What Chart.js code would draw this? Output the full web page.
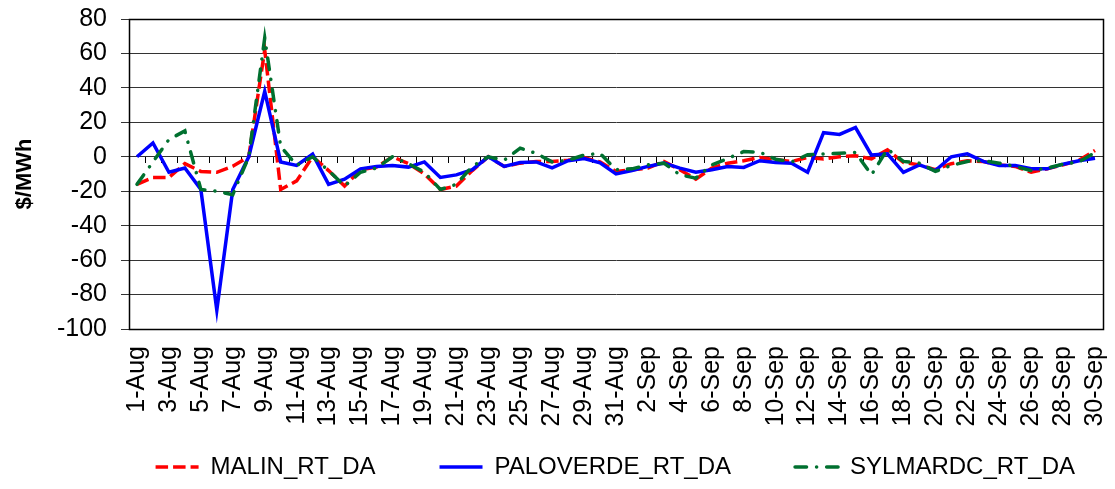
<!DOCTYPE html>
<html lang="en">
<head>
<meta charset="UTF-8">
<title>RT - DA price spread</title>
<script src="https://cdn.jsdelivr.net/npm/chart.js"></script>
<style>
  html, body { margin: 0; padding: 0; background: #fff; }
  .chart-box { width: 1115px; height: 489px; position: relative; }
</style>
</head>
<body>
<div class="chart-box"><canvas id="spreadChart"></canvas></div>
<script>
const days = [
  '1-Aug','2-Aug','3-Aug','4-Aug','5-Aug','6-Aug','7-Aug','8-Aug','9-Aug','10-Aug',
  '11-Aug','12-Aug','13-Aug','14-Aug','15-Aug','16-Aug','17-Aug','18-Aug','19-Aug','20-Aug',
  '21-Aug','22-Aug','23-Aug','24-Aug','25-Aug','26-Aug','27-Aug','28-Aug','29-Aug','30-Aug',
  '31-Aug','1-Sep','2-Sep','3-Sep','4-Sep','5-Sep','6-Sep','7-Sep','8-Sep','9-Sep',
  '10-Sep','11-Sep','12-Sep','13-Sep','14-Sep','15-Sep','16-Sep','17-Sep','18-Sep','19-Sep',
  '20-Sep','21-Sep','22-Sep','23-Sep','24-Sep','25-Sep','26-Sep','27-Sep','28-Sep','29-Sep',
  '30-Sep'
];

const malin = [
  -16, -12, -12, -4, -8.5, -9, -5.5, 0, 62, -19,
  -14, 0, -8, -17, -7.5, -6, 0, -4, -10, -19,
  -17, -8, 0, -5.6, -3.7, -2.7, -2.7, -2, -0.5, -3,
  -8.5, -7.5, -6.6, -2.7, -7.5, -13, -6.6, -3.7, -2.3, -0.4,
  -1.7, -2.7, -0.4, -1.3, 0, 0.6, -1.2, 4, -3.3, -4.7,
  -7.5, -4, -2.3, -2.7, -4.7, -5.6, -9, -7, -4.7, -2,
  3.7
];

const paloverde = [
  0, 8, -9, -6.5, -19, -89, -19, 0, 38, -3,
  -5, 1.5, -16, -13, -7, -5.6, -5, -6, -3, -12,
  -10.5, -7.5, 0, -5.6, -3.3, -3, -6.4, -2.3, -1, -3.5,
  -10, -8, -5.6, -3.7, -6.6, -9, -7.5, -5.6, -6.2, -2.3,
  -3.3, -3.7, -9, 14, 13, 17, 1, 1.7, -9, -4.7,
  -8, 0, 1.7, -2.7, -5, -5, -7, -7, -4.3, -2.3,
  -0.8
];

const sylmardc = [
  -16, -3, 10, 15, -19, -20, -22, 0, 69, 6,
  -5, 0, -8, -17, -9, -6.5, 0, -4, -9, -19,
  -16, -5.6, 0, -2, 5, 2, -3, -2, 1, 2,
  -7.5, -7, -4.7, -3.7, -10.5, -12.4, -4.7, -1, 3, 2.7,
  -1.4, -3, 1.2, 1.6, 2, 2.5, -10.5, 4.5, -2.7, -3.7,
  -8.5, -5, -2.7, -2.3, -3.7, -5.6, -8, -6.6, -4.3, -3,
  2.5
];

const yMin = -100, yMax = 80, yStep = 20;

const FONT = "'Liberation Sans', Arial, sans-serif";

// frame round the plot area + small ticks along the zero line
const plotFrame = {
  id: 'plotFrame',
  beforeDatasetsDraw(chart) {
    const { ctx, chartArea: a, scales: { x, y } } = chart;
    const y0 = Math.round(y.getPixelForValue(0));
    const step = x.getPixelForValue(1) - x.getPixelForValue(0);
    ctx.save();
    ctx.strokeStyle = '#000';
    ctx.lineWidth = 1;
    ctx.beginPath();
    for (let i = 0; i <= days.length; i++) {
      const px = Math.round(x.getPixelForValue(0) + (i - 0.5) * step) + 0.5;
      ctx.moveTo(px, y0);
      ctx.lineTo(px, y0 + 6);
    }
    ctx.stroke();
    ctx.lineWidth = 1.5;
    ctx.strokeRect(Math.round(a.left) + 0.5, Math.round(a.top) + 0.5,
                   Math.round(a.width), Math.round(a.height));
    ctx.restore();
  }
};

// legend samples take the dataset dash; wider gap after the first two entries
const legendLabels = chart =>
  Chart.defaults.plugins.legend.labels.generateLabels(chart)
    .sort((a, b) => a.datasetIndex - b.datasetIndex)
    .map((item, i, all) => {
      const ds = chart.data.datasets[item.datasetIndex];
      return {
        ...item,
        lineDash: ds.borderDash || [],
        lineCap: ds.borderCapStyle || 'butt',
        text: i < all.length - 1 ? item.text + '\u2002\u2002\u2002' : item.text
      };
    });

new Chart(document.getElementById('spreadChart'), {
  type: 'line',
  data: {
    labels: days,
    datasets: [
      { label: 'MALIN_RT_DA', data: malin, borderColor: '#ff0000', backgroundColor: '#ff0000',
        borderWidth: 3.5, borderDash: [12.5, 5], order: 2 },
      { label: 'PALOVERDE_RT_DA', data: paloverde, borderColor: '#0000ff', backgroundColor: '#0000ff',
        borderWidth: 3.5, order: 1 },
      { label: 'SYLMARDC_RT_DA', data: sylmardc, borderColor: '#00702f', backgroundColor: '#00702f',
        borderWidth: 3.5, borderDash: [11.5, 10, 0.1, 10], borderCapStyle: 'round', order: 0 }
    ]
  },
  options: {
    responsive: true,
    maintainAspectRatio: false,
    animation: false,
    layout: { padding: { top: 19, right: 12, left: 0, bottom: 0 } },
    elements: { point: { radius: 0 }, line: { tension: 0 } },
    plugins: {
      tooltip: { enabled: false },
      legend: {
        position: 'bottom',
        align: 'end',
        labels: {
          usePointStyle: true,
          pointStyle: 'line',
          pointStyleWidth: 43,
          padding: 28,
          color: '#000',
          font: { family: FONT, size: 24, lineHeight: 1.0 },
          generateLabels: legendLabels
        }
      }
    },
    scales: {
      x: {
        offset: true,
        afterFit: s => { s.height = 98; s.paddingRight = 0; s.paddingLeft = 0; },
        grid: { display: false, drawTicks: false },
        border: { display: true, color: '#000' },
        ticks: {
          autoSkip: false,
          maxRotation: 90,
          minRotation: 90,
          padding: 17,
          color: '#000',
          font: { family: FONT, size: 25 },
          callback: (v, i) => (i % 2 === 0 ? days[i] : '')
        }
      },
      y: {
        min: yMin,
        max: yMax,
        afterFit: s => { s.width = 129; s.paddingTop = 0; s.paddingBottom = 0; },
        ticks: {
          stepSize: yStep,
          autoSkip: false,
          padding: 14,
          color: '#000',
          font: { family: FONT, size: 25 }
        },
        grid: { color: '#333', lineWidth: 1, tickLength: 8 },
        border: { display: true, color: '#000' },
        title: {
          display: true,
          text: '$/MWh',
          color: '#000',
          padding: { top: 12, bottom: 0 },
          font: { family: FONT, size: 22, weight: 'bold' }
        }
      }
    }
  },
  plugins: [plotFrame]
});
</script>
</body>
</html>
